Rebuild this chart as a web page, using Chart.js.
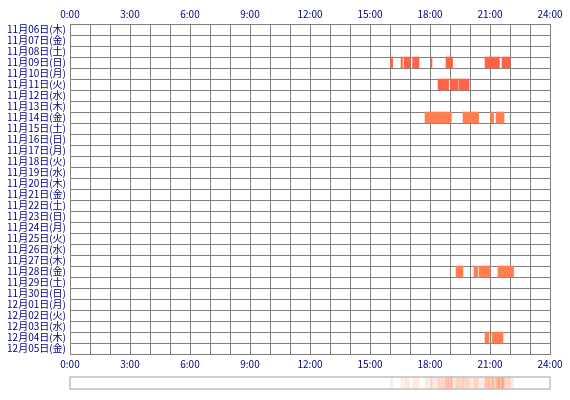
<!DOCTYPE html>
<html>
<head>
<meta charset="utf-8">
<script src="https://cdn.jsdelivr.net/npm/chart.js@4"></script>
<style>
    body { margin: 0; background: #fff; }
    #wrap { position: relative; width: 570px; height: 400px; }
    #mainChart { position: absolute; left: 0; top: 0; }
    #stripChart { position: absolute; left: 0; top: 372px; }
</style>
</head>
<body>
<div id="wrap">
    <canvas id="mainChart" width="570" height="372"></canvas>
    <canvas id="stripChart" width="570" height="28"></canvas>
</div>
<script>
// day rows (top to bottom)
const days = [
    '11月06日(木)', '11月07日(金)', '11月08日(土)', '11月09日(日)', '11月10日(月)',
    '11月11日(火)', '11月12日(水)', '11月13日(木)', '11月14日(金)', '11月15日(土)',
    '11月16日(日)', '11月17日(月)', '11月18日(火)', '11月19日(水)', '11月20日(木)',
    '11月21日(金)', '11月22日(土)', '11月23日(日)', '11月24日(月)', '11月25日(火)',
    '11月26日(水)', '11月27日(木)', '11月28日(金)', '11月29日(土)', '11月30日(日)',
    '12月01日(月)', '12月02日(火)', '12月03日(水)', '12月04日(木)', '12月05日(金)'
];

// hour ticks shown on the top and bottom axes
const hourTicks = [0, 3, 6, 9, 12, 15, 18, 21, 24];

// activity sessions: row index, start hour, end hour
const sessionDay   = [3, 3, 3, 3, 3, 3, 3, 3,
                      5, 5, 5,
                      8, 8, 8, 8,
                      22, 22, 22, 22,
                      28, 28];
const sessionStart = [16.03, 16.55, 16.70, 17.13, 18.05, 18.80, 20.75, 21.60,
                      18.40, 19.03, 19.45,
                      17.75, 19.65, 21.03, 21.30,
                      19.30, 20.20, 20.45, 21.40,
                      20.75, 21.10];
const sessionEnd   = [16.13, 16.62, 17.00, 17.45, 18.10, 19.13, 21.47, 22.00,
                      18.93, 19.40, 19.95,
                      19.07, 20.43, 21.18, 21.70,
                      19.65, 20.38, 21.00, 22.18,
                      20.95, 21.65];

const tomatoRows = [3, 5];

document.addEventListener('DOMContentLoaded', function() {
    const font = { family: '"Noto Sans CJK JP", sans-serif', size: 10 };
    const navy = '#000080';
    const gridColor = '#808080';

    const sessions = sessionDay.map(function(d, i) {
        return { y: days[d], x: [sessionStart[i], sessionEnd[i]], row: d };
    });

    function hourLabel(v) {
        return hourTicks.indexOf(v) >= 0 ? v + ':00' : '';
    }

    new Chart(document.getElementById('mainChart').getContext('2d'), {
        type: 'bar',
        data: {
            labels: days,
            datasets: [{
                data: sessions,
                backgroundColor: function(ctx) {
                    const raw = ctx.raw;
                    return raw && tomatoRows.indexOf(raw.row) >= 0 ? '#ff6347' : '#ff7f50';
                },
                borderWidth: 0,
                barPercentage: 1,
                categoryPercentage: 1,
                grouped: false
            }]
        },
        options: {
            indexAxis: 'y',
            responsive: false,
            animation: false,
            layout: { padding: { left: 0, right: 20, top: 0, bottom: 0 } },
            plugins: {
                legend: { display: false },
                tooltip: { enabled: false }
            },
            scales: {
                x: {
                    type: 'linear',
                    position: 'bottom',
                    min: 0,
                    max: 24,
                    z: 1,
                    afterFit: function(scale) { scale.height = 18; },
                    ticks: {
                        stepSize: 1,
                        autoSkip: false,
                        maxRotation: 0,
                        padding: 4,
                        color: navy,
                        font: font,
                        callback: hourLabel
                    },
                    grid: { color: gridColor, lineWidth: 1, drawTicks: false },
                    border: { color: gridColor }
                },
                x2: {
                    type: 'linear',
                    position: 'top',
                    min: 0,
                    max: 24,
                    afterFit: function(scale) { scale.height = 24; },
                    ticks: {
                        stepSize: 1,
                        autoSkip: false,
                        maxRotation: 0,
                        padding: 4,
                        color: navy,
                        font: font,
                        callback: hourLabel
                    },
                    grid: { display: false, drawTicks: false },
                    border: { color: gridColor }
                },
                y: {
                    type: 'category',
                    offset: true,
                    z: 1,
                    afterFit: function(scale) { scale.width = 70; },
                    ticks: {
                        autoSkip: false,
                        padding: 4,
                        color: navy,
                        font: font
                    },
                    grid: { color: gridColor, lineWidth: 1, drawTicks: false, offset: true },
                    border: { color: gridColor }
                }
            }
        }
    });

    // summary strip: how many days were active in each time slice
    const cuts = sessionStart.concat(sessionEnd).sort(function(a, b) { return a - b; });
    const slices = [];
    for (let i = 0; i < cuts.length - 1; i++) {
        const a = cuts[i], b = cuts[i + 1];
        if (b <= a) continue;
        const mid = (a + b) / 2;
        let n = 0;
        for (let j = 0; j < sessionStart.length; j++) {
            if (sessionStart[j] <= mid && mid < sessionEnd[j]) n++;
        }
        if (n > 0) slices.push({ y: 'all', x: [a, b], n: n });
    }

    const frame = {
        id: 'frame',
        afterDraw: function(chart) {
            const a = chart.chartArea;
            const c = chart.ctx;
            c.save();
            c.strokeStyle = '#c0c0c0';
            c.lineWidth = 1.5;
            c.strokeRect(a.left, a.top, a.right - a.left, a.bottom - a.top);
            c.restore();
        }
    };

    new Chart(document.getElementById('stripChart').getContext('2d'), {
        type: 'bar',
        data: {
            labels: ['all'],
            datasets: [{
                data: slices,
                backgroundColor: function(ctx) {
                    const n = ctx.raw ? ctx.raw.n : 0;
                    return 'rgba(255, 127, 80, ' + (0.16 * n) + ')';
                },
                borderWidth: 0,
                barPercentage: 1,
                categoryPercentage: 1,
                grouped: false
            }]
        },
        options: {
            indexAxis: 'y',
            responsive: false,
            animation: false,
            layout: { padding: { left: 70, right: 20, top: 5, bottom: 11 } },
            plugins: {
                legend: { display: false },
                tooltip: { enabled: false }
            },
            scales: {
                x: { type: 'linear', min: 0, max: 24, display: false },
                y: { type: 'category', display: false }
            }
        },
        plugins: [frame]
    });
});
</script>
</body>
</html>
